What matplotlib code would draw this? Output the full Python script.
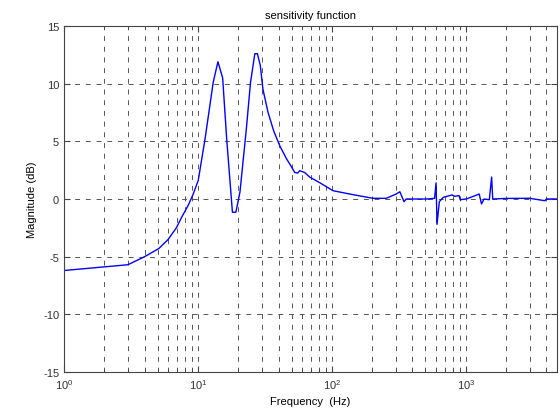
import matplotlib.pyplot as plt
from matplotlib.ticker import LogLocator, NullFormatter

# sensitivity function magnitude
freq_hz = [1.0, 3.0, 4.0, 5.1, 6.0, 6.9, 7.55, 8.5, 9.2, 10.05, 11.3, 13.0, 14.1,
           15.3, 16.4, 18.1, 19.2, 20.6, 23.0, 24.7, 26.6, 27.8, 29.2, 30.6,
           33.4, 36.8, 40.9, 45.8, 49.0, 52.9, 55.5, 57.6, 62.7, 68.3, 80.2,
           102.0, 136.0, 203.0, 255.0, 302.0, 322.0, 346.0, 359.0, 510.0, 585.0,
           600.0, 610.0, 635.0, 680.0, 790.0, 830.0, 890.0, 910.0, 1010.0,
           1260.0, 1310.0, 1370.0, 1500.0, 1560.0, 1590.0, 2000.0, 3000.0,
           3900.0, 4000.0, 4800.0]
mag_db = [-6.2, -5.7, -5.0, -4.3, -3.5, -2.5, -1.6, -0.5, 0.4, 1.6, 5.2, 10.1, 11.9,
          10.5, 5.2, -1.15, -1.15, 0.6, 6.1, 10.1, 12.6, 12.6, 11.6, 9.5,
          7.5, 5.9, 4.6, 3.5, 2.95, 2.3, 2.25, 2.45, 2.3, 1.9, 1.45,
          0.72, 0.43, 0.06, 0.06, 0.43, 0.63, -0.23, 0.0, 0.0, 0.06,
          1.4, -2.2, -0.23, 0.15, 0.35, 0.23, 0.3, -0.06, 0.0,
          0.43, -0.43, 0.0, -0.06, 1.9, 0.0, 0.05, 0.06,
          -0.15, 0.0, 0.0]

plt.rcParams['font.family'] = ['Liberation Sans', 'DejaVu Sans']
plt.rcParams['font.size'] = 8
plt.rcParams['axes.unicode_minus'] = False

fig = plt.figure(figsize=(5.6, 4.14), dpi=100)
ax = fig.add_axes([64 / 560, 41 / 414, 493 / 560, 346 / 414])

ax.semilogx(freq_hz, mag_db, color='#0000ff', linewidth=1.0)

ax.set_xlim(1, 4800)
ax.set_ylim(-15, 15)
ax.set_yticks([-15, -10, -5, 0, 5, 10, 15])
ax.xaxis.set_major_locator(LogLocator(base=10, numticks=10))
ax.xaxis.set_minor_locator(LogLocator(base=10, subs=range(2, 10), numticks=20))
ax.xaxis.set_minor_formatter(NullFormatter())

ax.grid(True, which='both', axis='x', linestyle=(0, (5, 6)), color='#555555', linewidth=0.7)
ax.grid(True, which='major', axis='y', linestyle=(0, (5, 6)), color='#555555', linewidth=0.7)

ax.tick_params(which='both', direction='in', top=True, right=True, colors='#444444',
               labelcolor='#333333')
ax.tick_params(which='major', length=4)
ax.tick_params(which='minor', length=2.5)
for s in ax.spines.values():
    s.set_color('#444444')

ax.set_title('sensitivity function', fontsize=8)
ax.set_xlabel('Frequency  (Hz)')
ax.set_ylabel('Magnitude (dB)')

fig.savefig('out.png', dpi=100)
